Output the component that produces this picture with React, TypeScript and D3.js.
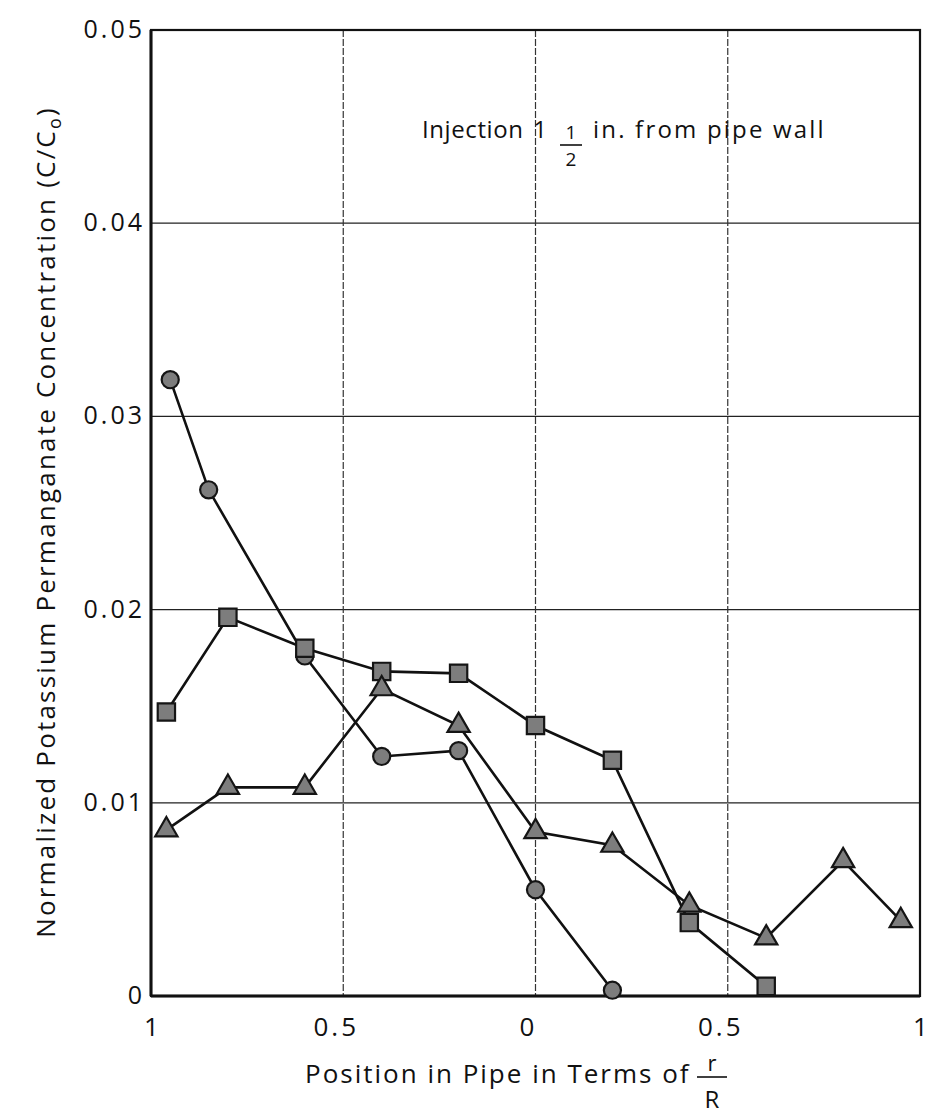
import React, { useEffect, useRef } from "react";
import * as d3 from "d3";

// radial position r/R (left wall = -1, centre = 0, right wall = 1)
const circleX = [-0.95, -0.85, -0.6, -0.4, -0.2, 0, 0.2];
const circleY = [0.0319, 0.0262, 0.0176, 0.0124, 0.0127, 0.0055, 0.0003];

const squareX = [-0.96, -0.8, -0.6, -0.4, -0.2, 0, 0.2, 0.4, 0.6];
const squareY = [0.0147, 0.0196, 0.018, 0.0168, 0.0167, 0.014, 0.0122, 0.0038, 0.0005];

const triX = [-0.96, -0.8, -0.6, -0.4, -0.2, 0, 0.2, 0.4, 0.6, 0.8, 0.95];
const triY = [0.0086, 0.0108, 0.0108, 0.0159, 0.014, 0.0085, 0.0078, 0.0047, 0.003, 0.007, 0.0039];

const yTicks = [0, 0.01, 0.02, 0.03, 0.04, 0.05];
const yTickLabels = ["0", "0.01", "0.02", "0.03", "0.04", "0.05"];
const xTicks = [-1, -0.5, 0, 0.5, 1];
const xTickLabels = ["1", "0.5", "0", "0.5", "1"];

const FONT = "'Open Sans', 'DejaVu Sans', sans-serif";

export default function App() {
  const ref = useRef<SVGSVGElement>(null);

  useEffect(() => {
    const svg = d3.select(ref.current);
    svg.selectAll("*").remove();

    const left = 151, right = 920, top = 30, bottom = 996;
    const x = d3.scaleLinear().domain([-1, 1]).range([left, right]);
    const y = d3.scaleLinear().domain([0, 0.05]).range([bottom, top]);

    const g = svg.append("g");

    // horizontal grid
    g.selectAll(".hgrid")
      .data(yTicks.slice(1, -1))
      .enter().append("line")
      .attr("x1", left).attr("x2", right)
      .attr("y1", d => y(d)).attr("y2", d => y(d))
      .attr("stroke", "#222").attr("stroke-width", 1.3);

    // vertical grid (broken/dotted in the scan)
    g.selectAll(".vgrid")
      .data(xTicks.slice(1, -1))
      .enter().append("line")
      .attr("x1", d => x(d)).attr("x2", d => x(d))
      .attr("y1", top).attr("y2", bottom)
      .attr("stroke", "#333").attr("stroke-width", 1.2)
      .attr("stroke-dasharray", "7,2");

    // frame
    g.append("rect")
      .attr("x", left).attr("y", top)
      .attr("width", right - left).attr("height", bottom - top)
      .attr("fill", "none").attr("stroke", "#111").attr("stroke-width", 2.2);
    g.append("line").attr("x1", left).attr("x2", left).attr("y1", top).attr("y2", bottom)
      .attr("stroke", "#111").attr("stroke-width", 3);
    g.append("line").attr("x1", left).attr("x2", right).attr("y1", bottom).attr("y2", bottom)
      .attr("stroke", "#111").attr("stroke-width", 3);

    // y tick labels
    g.selectAll(".ylab")
      .data(yTicks)
      .enter().append("text")
      .attr("x", left - 6)
      .attr("y", d => y(d) + 8)
      .attr("text-anchor", "end")
      .attr("font-family", FONT).attr("font-size", 25)
      .attr("letter-spacing", 3)
      .attr("fill", "#111")
      .text((d, i) => yTickLabels[i]);

    // x tick labels
    g.selectAll(".xlab")
      .data(xTicks)
      .enter().append("text")
      .attr("x", d => x(d) + (Math.abs(d) === 1 ? 2 : -7))
      .attr("y", bottom + 40)
      .attr("text-anchor", "middle")
      .attr("font-family", FONT).attr("font-size", 26)
      .attr("letter-spacing", 3)
      .attr("fill", "#111")
      .text((d, i) => xTickLabels[i]);

    // series lines
    const line = d3.line<[number, number]>().x(d => x(d[0])).y(d => y(d[1]));
    const series = [
      { xs: circleX, ys: circleY, sym: d3.symbolCircle, size: 230 },
      { xs: squareX, ys: squareY, sym: d3.symbolSquare, size: 300 },
      { xs: triX, ys: triY, sym: d3.symbolTriangle, size: 215 },
    ];
    series.forEach(s => {
      const pts = s.xs.map((v, i) => [v, s.ys[i]] as [number, number]);
      g.append("path")
        .attr("d", line(pts))
        .attr("fill", "none").attr("stroke", "#111").attr("stroke-width", 2.6);
    });
    series.forEach(s => {
      const pts = s.xs.map((v, i) => [v, s.ys[i]] as [number, number]);
      g.selectAll(null)
        .data(pts)
        .enter().append("path")
        .attr("d", d3.symbol().type(s.sym).size(s.size)())
        .attr("transform", d => `translate(${x(d[0])},${y(d[1])})`)
        .attr("fill", "#7d7d7d").attr("stroke", "#151515").attr("stroke-width", 2.2);
    });

    // annotation
    const ann = g.append("g").attr("font-family", FONT).attr("font-size", 24).attr("fill", "#111");
    ann.append("text").attr("x", 422).attr("y", 138).attr("letter-spacing", 0.6).text("Injection");
    ann.append("text").attr("x", 540).attr("y", 138).attr("text-anchor", "middle").text("1");
    ann.append("text").attr("x", 571).attr("y", 139).attr("text-anchor", "middle")
      .attr("font-size", 19).text("1");
    ann.append("line").attr("x1", 560).attr("x2", 582).attr("y1", 145).attr("y2", 145)
      .attr("stroke", "#111").attr("stroke-width", 1.6);
    ann.append("text").attr("x", 571).attr("y", 166).attr("text-anchor", "middle")
      .attr("font-size", 19).text("2");
    ann.append("text").attr("x", 593).attr("y", 138).attr("letter-spacing", 2.2)
      .text("in. from pipe wall");

    // x title
    const xt = g.append("g").attr("font-family", FONT).attr("font-size", 26).attr("fill", "#111");
    xt.append("text").attr("x", 305).attr("y", 1083).attr("letter-spacing", 2)
      .text("Position in Pipe in Terms of");
    xt.append("text").attr("x", 712).attr("y", 1071).attr("text-anchor", "middle")
      .attr("font-size", 22).text("r");
    xt.append("line").attr("x1", 697).attr("x2", 727).attr("y1", 1077).attr("y2", 1077)
      .attr("stroke", "#111").attr("stroke-width", 1.6);
    xt.append("text").attr("x", 712).attr("y", 1108).attr("text-anchor", "middle")
      .attr("font-size", 24).text("R");

    // y title
    const yt = g.append("text")
      .attr("transform", "translate(55,522) rotate(-90)")
      .attr("text-anchor", "middle")
      .attr("font-family", FONT).attr("font-size", 26)
      .attr("letter-spacing", 2.2).attr("fill", "#111");
    yt.append("tspan").text("Normalized Potassium Permanganate Concentration (C/C");
    yt.append("tspan").attr("font-size", 18).attr("dy", 6).text("o");
    yt.append("tspan").attr("dy", -6).text(")");
  }, []);

  return (
    <svg
      ref={ref}
      width={932}
      height={1120}
      style={{ position: "absolute", left: 0, top: 0, background: "#fff" }}
    />
  );
}
